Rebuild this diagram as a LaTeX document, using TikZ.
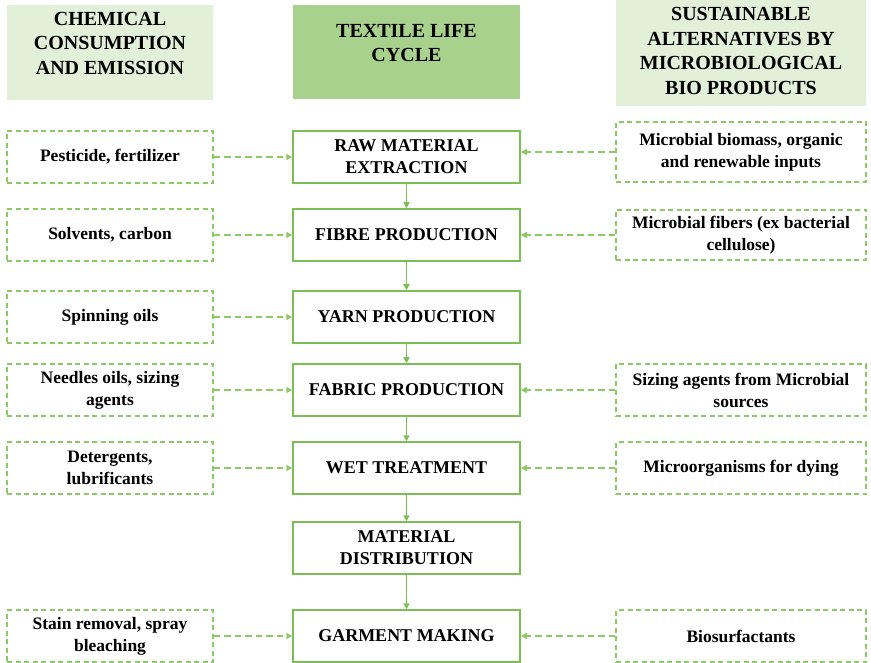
\documentclass[tikz,border=0pt]{standalone}
\usepackage{fontspec}
\setmainfont{Liberation Serif}
\usetikzlibrary{positioning,arrows.meta}
\definecolor{verdeclaro}{RGB}{226,240,217}
\definecolor{verdemedio}{RGB}{169,209,142}
\definecolor{verdeborde}{RGB}{122,190,84}
\definecolor{verdeguion}{RGB}{140,202,102}
\tikzset{cabecera/.style={inner sep=0pt, align=center, font=\fontsize{20}{24.5}\selectfont\bfseries}}
\tikzset{etapa/.style={draw=verdeborde, line width=1.5pt, minimum width=227pt, minimum height=52pt, inner sep=0pt, align=center, font=\fontsize{18}{22}\selectfont\bfseries}}
\tikzset{insumo/.style={draw=verdeguion, line width=1.2pt, dash pattern=on 5pt off 3.5pt, minimum width=206pt, minimum height=52pt, inner sep=0pt, align=center, font=\fontsize{17.5}{22}\selectfont\bfseries}}
\tikzset{alterna/.style={insumo, minimum width=250pt}}
\tikzset{flecha/.style={draw=verdeborde, line width=1.5pt, -{Triangle[length=6pt,width=6pt]}}}
\tikzset{flechaguion/.style={draw=verdeguion, line width=1.6pt, dash pattern=on 6.5pt off 4pt, -{Triangle[length=6pt,width=6pt]}}}

\begin{document}
\begin{tikzpicture}[x=1pt, y=-1pt]
            \useasboundingbox (0,0) rectangle (871,663);

            % cabeceras
            \fill[verdeclaro] (7,5) rectangle (213,100);
            \fill[verdemedio] (293,5) rectangle (520,99);
            \fill[verdeclaro] (616,0) rectangle (866,106);
            \node[cabecera] (h1) at (110,43) {CHEMICAL\\CONSUMPTION\\AND EMISSION};
            \node[cabecera] (h2) at (406.5,43) {TEXTILE LIFE\\CYCLE};
            \node[cabecera] (h3) at (741,51) {SUSTAINABLE\\ALTERNATIVES BY\\MICROBIOLOGICAL\\BIO PRODUCTS};

            % ciclo de vida
            \node[etapa] (c1) at (406.5,157) {RAW MATERIAL\\EXTRACTION};
            \node[etapa] (c2) at (406.5,235) {FIBRE PRODUCTION};
            \node[etapa] (c3) at (406.5,317) {YARN PRODUCTION};
            \node[etapa] (c4) at (406.5,390) {FABRIC PRODUCTION};
            \node[etapa] (c5) at (406.5,468) {WET TREATMENT};
            \node[etapa] (c6) at (406.5,548) {MATERIAL\\DISTRIBUTION};
            \node[etapa] (c7) at (406.5,636) {GARMENT MAKING};

            % quimicos
            \node[insumo] (l1) at (110,157) {Pesticide, fertilizer};
            \node[insumo] (l2) at (110,235) {Solvents, carbon};
            \node[insumo] (l3) at (110,317) {Spinning oils};
            \node[insumo] (l4) at (110,390) {Needles oils, sizing\\agents};
            \node[insumo] (l5) at (110,468) {Detergents,\\lubrificants};
            \node[insumo] (l7) at (110,636) {Stain removal, spray\\bleaching};

            % alternativas
            \node[alterna, minimum height=60pt] (r1) at (741,152) {Microbial biomass, organic\\and renewable inputs};
            \node[alterna, minimum height=50pt] (r2) at (741,235) {Microbial fibers (ex bacterial\\cellulose)};
            \node[alterna] (r4) at (741,390) {Sizing agents from Microbial\\sources};
            \node[alterna] (r5) at (741,468) {Microorganisms for dying};
            \node[alterna] (r7) at (741,636) {Biosurfactants};

            \foreach \a/\b in {c1/c2, c2/c3, c3/c4, c4/c5, c5/c6, c6/c7}
                \draw[flecha] (\a) -- (\b);
            \foreach \a/\b in {l1/c1, l2/c2, l3/c3, l4/c4, l5/c5, l7/c7}
                \draw[flechaguion] (\a) -- (\b);
            \foreach \a/\b in {r1/c1, r2/c2, r4/c4, r5/c5, r7/c7}
                \draw[flechaguion] (\a.west) -- (\a.west -| \b.east);
        \end{tikzpicture}
\end{document}
